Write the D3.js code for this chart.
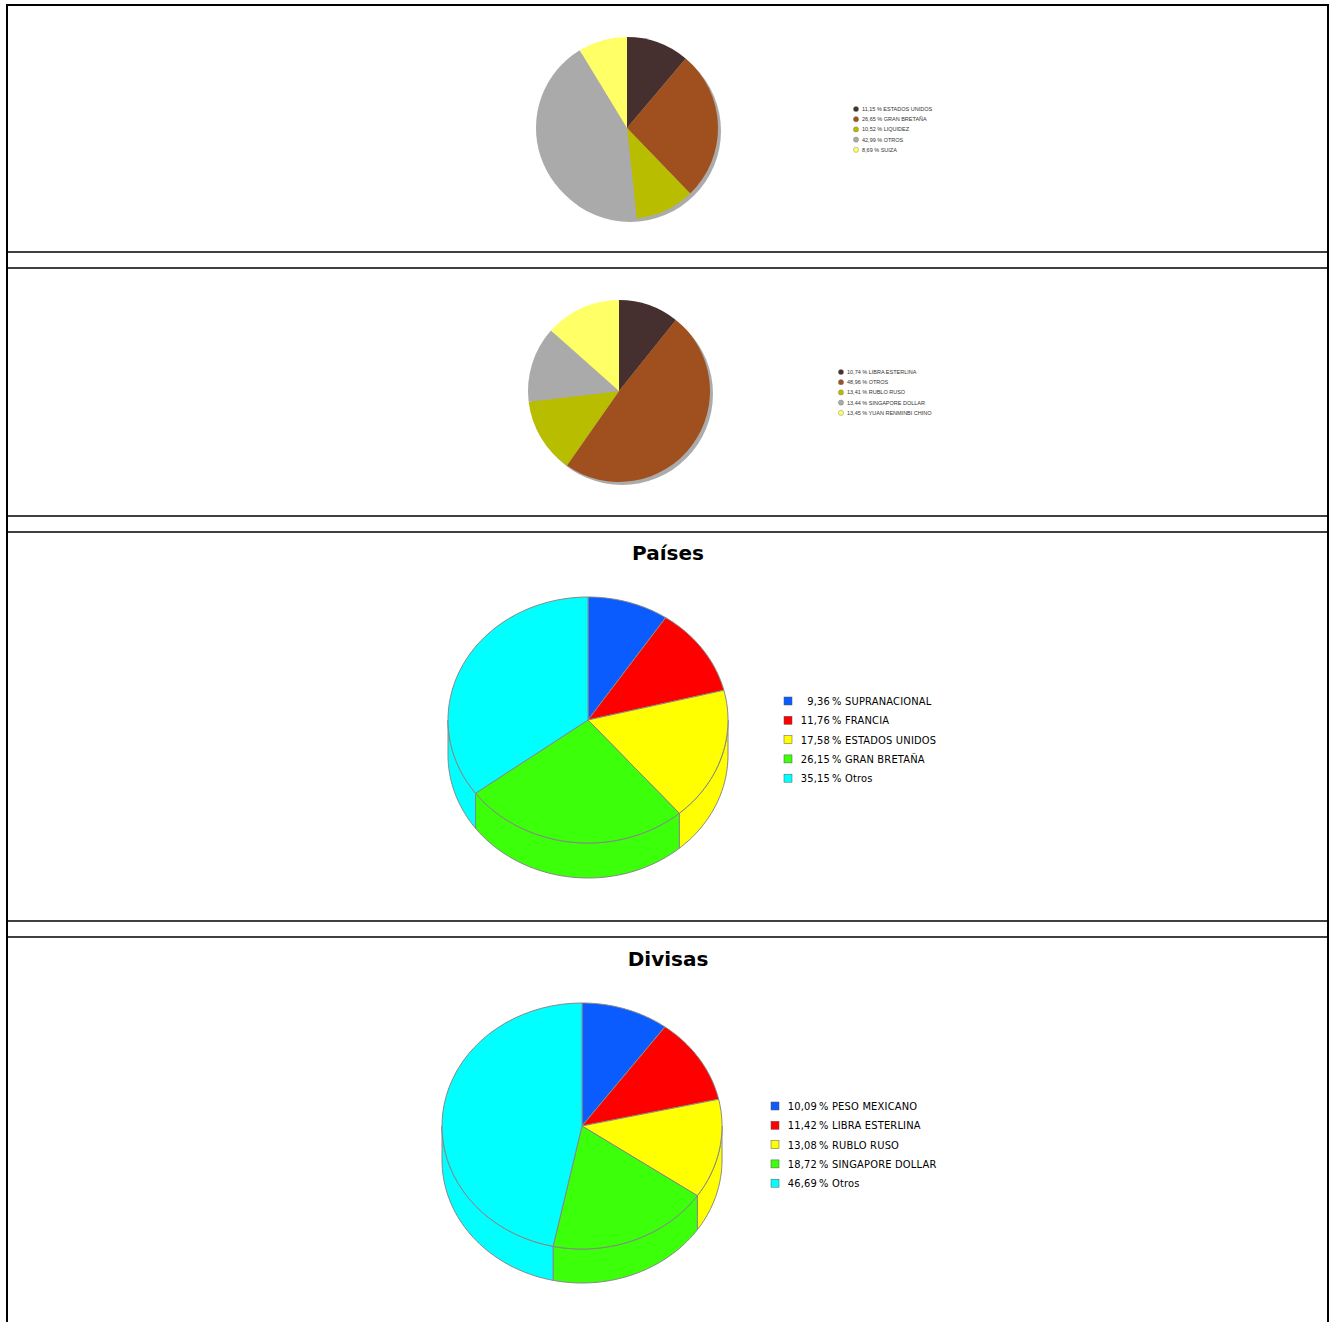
<!DOCTYPE html>
<html><head><meta charset="utf-8">
<script src="https://cdn.jsdelivr.net/npm/d3@7"></script>
<style>body{margin:0;background:#fff}</style>
</head><body>
<svg id="c" width="1329" height="1322"></svg>
<script>
// data
const paisesTop = ['ESTADOS UNIDOS', 'GRAN BRETAÑA', 'LIQUIDEZ', 'OTROS', 'SUIZA'];
const paisesTopVals = [11.15, 26.65, 10.52, 42.99, 8.69];
const divisasTop = ['LIBRA ESTERLINA', 'OTROS', 'RUBLO RUSO', 'SINGAPORE DOLLAR', 'YUAN RENMINBI CHINO'];
const divisasTopVals = [10.74, 48.96, 13.41, 13.44, 13.45];
const paises = ['SUPRANACIONAL', 'FRANCIA', 'ESTADOS UNIDOS', 'GRAN BRETAÑA', 'Otros'];
const paisesVals = [9.36, 11.76, 17.58, 26.15, 35.15];
const divisas = ['PESO MEXICANO', 'LIBRA ESTERLINA', 'RUBLO RUSO', 'SINGAPORE DOLLAR', 'Otros'];
const divisasVals = [10.09, 11.42, 13.08, 18.72, 46.69];

const flatColors = ['#45302f', '#a0501f', '#b9bd00', '#aaaaaa', '#ffff66'];
const brightColors = ['#0a5cff', '#ff0000', '#ffff00', '#3cff0a', '#00ffff'];
const fmt = v => d3.format('.2f')(v).replace('.', ',');

const svg = d3.select('#c');

// frame and panel separators
svg.append('rect').attr('x', 7).attr('y', 5).attr('width', 1321).attr('height', 1330)
    .style('fill', 'none').style('stroke', '#000').style('stroke-width', 2);
[252, 268, 516, 532, 921, 937].forEach(y => {
    svg.append('line').attr('x1', 7).attr('x2', 1328).attr('y1', y).attr('y2', y)
        .style('stroke', '#000').style('stroke-width', 1.5);
});

const pie = d3.pie().sort(null).value(d => d);

function flatPie(vals, names, cx, cy, r, lx, ly) {
    const g = svg.append('g').attr('transform', `translate(${cx},${cy})`);
    g.append('circle').attr('cx', 3).attr('cy', 3).attr('r', r).style('fill', '#888').style('opacity', 0.7);
    const arc = d3.arc().innerRadius(0).outerRadius(r);
    g.selectAll('path').data(pie(vals)).enter().append('path')
        .attr('d', arc).style('fill', (d, i) => flatColors[i]);
    names.forEach((n, i) => {
        const y = ly + i * 10.2;
        svg.append('circle').attr('cx', lx).attr('cy', y).attr('r', 2.6)
            .style('fill', flatColors[i]).style('stroke', '#777').style('stroke-width', 0.4);
        svg.append('text').attr('x', lx + 6).attr('y', y + 2)
            .style('font-family', 'Liberation Sans, Arial').style('font-size', '5.5px').style('fill', '#333')
            .text(`${fmt(vals[i])} % ${n}`);
    });
}

function pie3d(vals, names, title, cx, cy, rx, ry, depth, lx, ly, ty) {
    svg.append('text').attr('x', 668).attr('y', ty).attr('text-anchor', 'middle')
        .style('font-family', 'DejaVu Sans').style('font-weight', 'bold').style('font-size', '20px')
        .text(title);
    const g = svg.append('g');
    const pt = (a, dy) => [cx + rx * Math.sin(a), cy - ry * Math.cos(a) + dy];
    const line = d3.line();
    const arcs = pie(vals);
    const samples = (a0, a1) => d3.range(0, 41).map(k => a0 + (a1 - a0) * k / 40);
    // side walls (front half only)
    arcs.forEach((d, i) => {
        const a0 = Math.max(d.startAngle, Math.PI / 2), a1 = Math.min(d.endAngle, 3 * Math.PI / 2);
        if (a1 <= a0) return;
        const s = samples(a0, a1);
        const p = s.map(a => pt(a, 0)).concat(s.slice().reverse().map(a => pt(a, depth)));
        g.append('path').attr('d', line(p) + 'Z').style('fill', brightColors[i])
            .style('stroke', '#888').style('stroke-width', 1);
    });
    // top faces
    arcs.forEach((d, i) => {
        const p = [[cx, cy]].concat(samples(d.startAngle, d.endAngle).map(a => pt(a, 0)));
        g.append('path').attr('d', line(p) + 'Z').style('fill', brightColors[i])
            .style('stroke', '#888').style('stroke-width', 1);
    });
    names.forEach((n, i) => {
        const y = ly + i * 19.3;
        svg.append('rect').attr('x', lx - 4).attr('y', y - 4).attr('width', 8).attr('height', 8)
            .style('fill', brightColors[i]).style('stroke', '#555').style('stroke-width', 0.5);
        const t = svg.append('text').attr('y', y + 4)
            .style('font-family', 'DejaVu Sans Condensed, DejaVu Sans').style('font-size', '11px')
            .style('letter-spacing', '0.2px');
        t.append('tspan').attr('x', lx + 42).attr('text-anchor', 'end').text(fmt(vals[i]));
        t.append('tspan').attr('x', lx + 44).text(`% ${n}`);
    });
}

flatPie(paisesTopVals, paisesTop, 627, 128, 91, 856, 109);
flatPie(divisasTopVals, divisasTop, 619, 391, 91, 841, 372);
pie3d(paisesVals, paises, 'Países', 588, 720, 140, 123, 35, 788, 701, 560);
pie3d(divisasVals, divisas, 'Divisas', 582, 1126, 140, 123, 34, 775, 1106, 966);
</script>
</body></html>
